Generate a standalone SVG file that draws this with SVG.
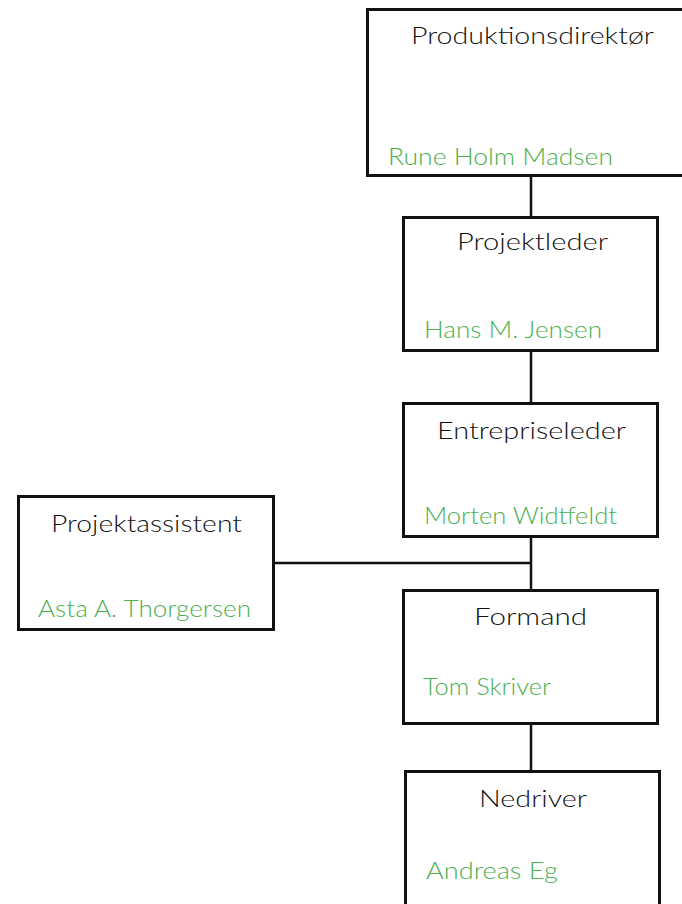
<svg xmlns="http://www.w3.org/2000/svg" width="682" height="904" viewBox="0 0 682 904">
<style>
  .box { fill: #ffffff; stroke: #111111; stroke-width: 3; }
  .edge { fill: none; stroke: #111111; stroke-width: 2.5; }
  .title { font-family: Lato, "Open Sans", "Liberation Sans", sans-serif; font-size: 24px; font-weight: 300; fill: #111111; }
  .name { font-family: Lato, "Open Sans", "Liberation Sans", sans-serif; font-size: 24px; font-weight: 300; fill: #4caf50; }
</style>
<rect width="682" height="904" fill="#ffffff"/>
<g id="connectors">
  <line class="edge" x1="531" y1="177" x2="531" y2="217"/>
  <line class="edge" x1="531" y1="352" x2="531" y2="403"/>
  <line class="edge" x1="531" y1="538" x2="531" y2="590"/>
  <line class="edge" x1="531" y1="724" x2="531" y2="771"/>
  <line class="edge" x1="275" y1="563" x2="531" y2="563"/>
</g>
<g id="produktionsdirektor">
  <rect class="box" x="367.5" y="9.5" width="327" height="166"/>
  <text class="title" x="411" y="44" textLength="243" lengthAdjust="spacingAndGlyphs">Produktionsdirektør</text>
  <text class="name" x="388" y="165" textLength="225" lengthAdjust="spacingAndGlyphs">Rune Holm Madsen</text>
</g>
<g id="projektleder">
  <rect class="box" x="403.5" y="217.5" width="254" height="133"/>
  <text class="title" x="457" y="250" textLength="151" lengthAdjust="spacingAndGlyphs">Projektleder</text>
  <text class="name" x="424" y="338" textLength="178" lengthAdjust="spacingAndGlyphs">Hans M. Jensen</text>
</g>
<g id="entrepriseleder">
  <rect class="box" x="403.5" y="403.5" width="254" height="133"/>
  <text class="title" x="437" y="439" textLength="189" lengthAdjust="spacingAndGlyphs">Entrepriseleder</text>
  <text class="name" x="424" y="524" textLength="193" lengthAdjust="spacingAndGlyphs">Morten Widtfeldt</text>
</g>
<g id="projektassistent">
  <rect class="box" x="18.5" y="496.5" width="255" height="133"/>
  <text class="title" x="51" y="532" textLength="191" lengthAdjust="spacingAndGlyphs">Projektassistent</text>
  <text class="name" x="38" y="617" textLength="213" lengthAdjust="spacingAndGlyphs">Asta A. Thorgersen</text>
</g>
<g id="formand">
  <rect class="box" x="403.5" y="590.5" width="254" height="133"/>
  <text class="title" x="474" y="625" textLength="113" lengthAdjust="spacingAndGlyphs">Formand</text>
  <text class="name" x="423" y="695" textLength="128" lengthAdjust="spacingAndGlyphs">Tom Skriver</text>
</g>
<g id="nedriver">
  <rect class="box" x="405.5" y="771.5" width="254" height="140"/>
  <text class="title" x="479" y="807" textLength="108" lengthAdjust="spacingAndGlyphs">Nedriver</text>
  <text class="name" x="426" y="879" textLength="132" lengthAdjust="spacingAndGlyphs">Andreas Eg</text>
</g>
</svg>
